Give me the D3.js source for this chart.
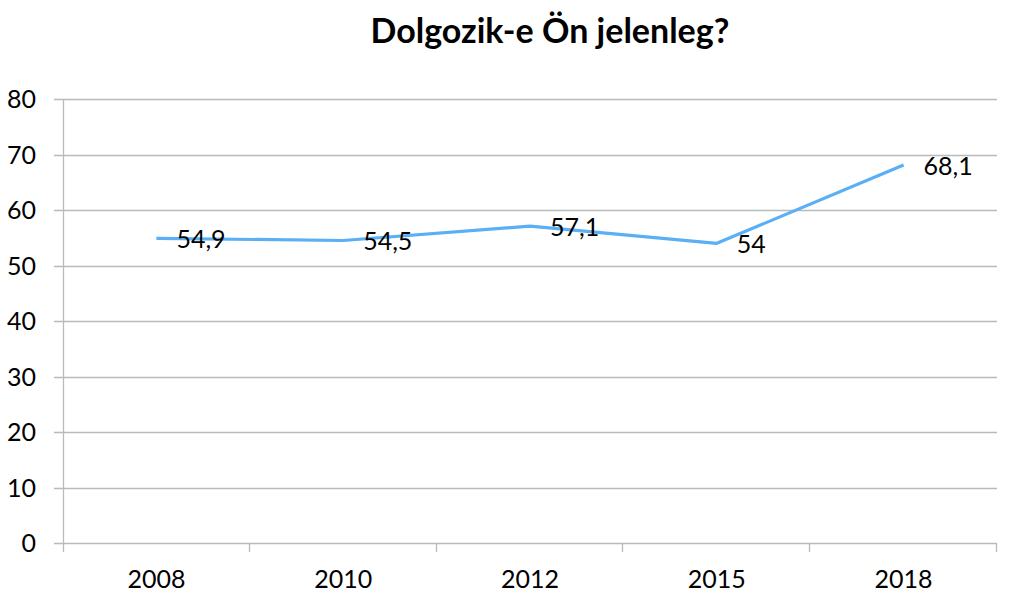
<!DOCTYPE html>
<html>
<head>
<meta charset="utf-8">
<script src="https://cdn.jsdelivr.net/npm/d3@7"></script>
<style>
  html, body { margin: 0; padding: 0; background: #fff; }
  svg text { font-family: Lato, "Open Sans", sans-serif; fill: #000; }
</style>
</head>
<body>
<svg id="chart" width="1013" height="604"></svg>
<script>
// values
const years = ["2008", "2010", "2012", "2015", "2018"];
const values = [54.9, 54.5, 57.1, 54, 68.1];
const valueLabels = ["54,9", "54,5", "57,1", "54", "68,1"];
const yTicks = [0, 10, 20, 30, 40, 50, 60, 70, 80];

const margin = { top: 99, right: 16, bottom: 61, left: 63 };
const width = 1013, height = 604;

const svg = d3.select("#chart");

const x = d3.scaleBand()
  .domain(years)
  .range([margin.left, width - margin.right]);

const y = d3.scaleLinear()
  .domain([0, 80])
  .range([height - margin.bottom, margin.top]);

const gridColor = "#b4bcbc";

// horizontal gridlines (they stick out a little left of the axis like Excel ticks)
svg.append("g")
  .selectAll("line")
  .data(yTicks)
  .join("line")
  .attr("x1", margin.left - 9)
  .attr("x2", width - margin.right)
  .attr("y1", d => Math.round(y(d)) + 0.5)
  .attr("y2", d => Math.round(y(d)) + 0.5)
  .attr("stroke", gridColor)
  .attr("stroke-width", 1.3);

// vertical axis line
svg.append("line")
  .attr("x1", margin.left + 0.5).attr("x2", margin.left + 0.5)
  .attr("y1", y(80)).attr("y2", y(0) + 9)
  .attr("stroke", gridColor)
  .attr("stroke-width", 1.3);

// x tick marks at band boundaries
const bounds = years.map(d => x(d)).concat([x(years[years.length - 1]) + x.bandwidth()]);
svg.append("g")
  .selectAll("line")
  .data(bounds.slice(1))
  .join("line")
  .attr("x1", d => Math.round(d) - 0.5)
  .attr("x2", d => Math.round(d) - 0.5)
  .attr("y1", y(0))
  .attr("y2", y(0) + 9)
  .attr("stroke", gridColor)
  .attr("stroke-width", 1.3);

// y tick labels
svg.append("g")
  .selectAll("text")
  .data(yTicks)
  .join("text")
  .attr("x", 36)
  .attr("y", d => y(d))
  .attr("dy", "0.36em")
  .attr("text-anchor", "end")
  .attr("font-size", 25)
  .text(d => d);

// x labels
svg.append("g")
  .selectAll("text")
  .data(years)
  .join("text")
  .attr("x", d => x(d) + x.bandwidth() / 2)
  .attr("y", 588)
  .attr("text-anchor", "middle")
  .attr("font-size", 25)
  .text(d => d);

// the line
const pts = years.map((d, i) => ({ year: d, v: values[i], label: valueLabels[i] }));
const line = d3.line()
  .x(d => x(d.year) + x.bandwidth() / 2)
  .y(d => y(d.v));

svg.append("path")
  .datum(pts)
  .attr("d", line)
  .attr("fill", "none")
  .attr("stroke", "#5aaff5")
  .attr("stroke-width", 3.2)
  .attr("stroke-linejoin", "round");

// data labels, placed right of each point
svg.append("g")
  .selectAll("text")
  .data(pts)
  .join("text")
  .attr("x", d => x(d.year) + x.bandwidth() / 2 + 20)
  .attr("y", d => y(d.v))
  .attr("dy", "0.38em")
  .attr("font-size", 25)
  .text(d => d.label);

// title
svg.append("text")
  .attr("x", 550)
  .attr("y", 43)
  .attr("text-anchor", "middle")
  .attr("font-size", 34)
  .attr("font-weight", "bold")
  .text("Dolgozik-e Ön jelenleg?");
</script>
</body>
</html>
